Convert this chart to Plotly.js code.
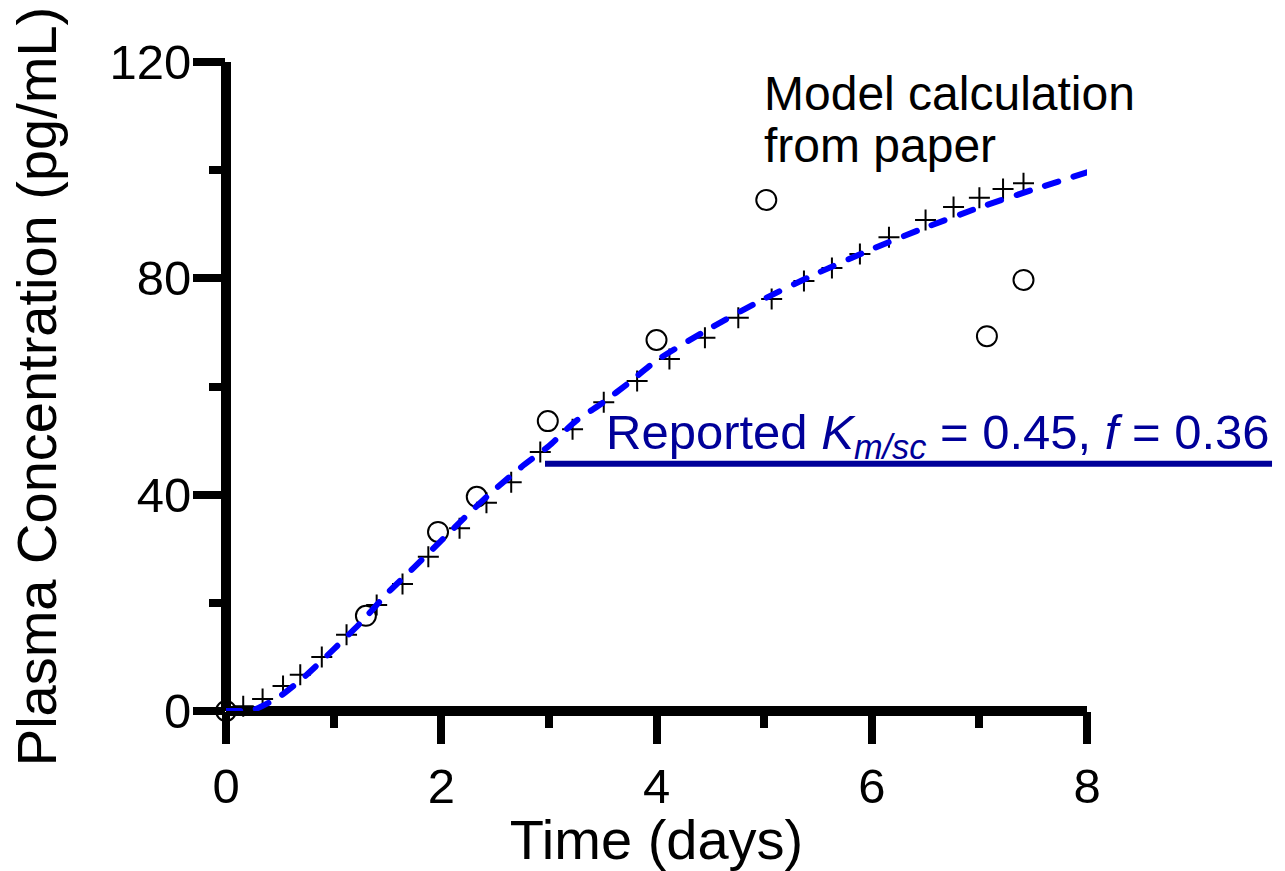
<!DOCTYPE html>
<html>
<head>
<meta charset="utf-8">
<script src="https://cdn.plot.ly/plotly-3.0.1.min.js"></script>
<style>
  html, body { margin: 0; padding: 0; background: #fff; }
  #chart { width: 1285px; height: 871px; }
  .js-line { stroke-linecap: round; }
</style>
</head>
<body>
<div id="chart"></div>
<script>
// Observed plasma concentrations (open circles)
const obsDays = [0, 0.28, 1.30, 1.97, 2.33, 2.99, 4.00, 5.02, 7.07, 7.41];
const obsConc = [0, -0.3, 17.6, 33.1, 39.6, 53.6, 68.6, 94.5, 69.3, 79.7];

// Model calculation from paper (plus markers)
const paperDays = [0.16, 0.34, 0.53, 0.69, 0.89, 1.12, 1.40, 1.64, 1.88, 2.17,
                   2.42, 2.65, 2.92, 3.22, 3.51, 3.82, 4.12, 4.45, 4.76, 5.07,
                   5.37, 5.63, 5.89, 6.16, 6.50, 6.76, 7.00, 7.22, 7.41];
const paperConc = [0.9, 2.2, 4.6, 6.7, 10.0, 14.1, 19.6, 23.5, 28.5, 33.8,
                   38.5, 42.3, 47.9, 52.1, 57.1, 61.0, 65.1, 69.0, 72.7, 76.2,
                   79.5, 81.9, 84.5, 87.6, 90.8, 93.2, 94.9, 96.5, 97.6];

// Fitted curve with the reported parameters (dashed blue)
const fitDays = [0, 0.25, 0.5, 0.75, 1.0, 1.25, 1.5, 1.75, 2.0, 2.25, 2.5, 2.75,
                 3.0, 3.25, 3.5, 3.75, 4.0, 4.5, 5.0, 5.5, 6.0, 6.5, 7.0, 7.5, 8.0];
const fitConc = [0, 0.2, 2.7, 6.7, 11.4, 16.3, 21.8, 26.6, 31.5, 36.4, 41.0, 45.2,
                 49.0, 53.6, 57.0, 60.8, 64.8, 70.8, 76.2, 81.0, 85.4, 89.4, 93.1, 96.4, 99.6];

const xTicks = [0, 2, 4, 6, 8];
const yTicks = [0, 40, 80, 120];

const navy = '#000099';
const font = 'Liberation Sans, Arial, sans-serif';

const traces = [
  {
    x: obsDays, y: obsConc, type: 'scatter', mode: 'markers',
    marker: { symbol: 'circle-open', size: 20, color: '#000', line: { width: 2, color: '#000' } },
    cliponaxis: false, hoverinfo: 'skip'
  },
  {
    x: paperDays, y: paperConc, type: 'scatter', mode: 'markers',
    marker: { symbol: 'cross-thin-open', size: 15, color: '#000', line: { width: 2, color: '#000' } },
    cliponaxis: false, hoverinfo: 'skip'
  },
  {
    x: fitDays, y: fitConc, type: 'scatter', mode: 'lines',
    line: { color: '#0000ff', width: 6, dash: '14px,16px', shape: 'spline', smoothing: 0.6 },
    cliponaxis: false, hoverinfo: 'skip'
  }
];

const axisCommon = {
  showgrid: false,
  showline: false,
  zeroline: true,
  zerolinecolor: '#000',
  zerolinewidth: 10,
  ticks: 'outside',
  ticklen: 32,
  tickwidth: 8,
  tickcolor: '#000',
  tickfont: { family: font, size: 49, color: '#000' },
  fixedrange: true
};

const layout = {
  width: 1285, height: 871,
  margin: { l: 226, r: 198, t: 62, b: 160 },
  paper_bgcolor: '#fff', plot_bgcolor: '#fff',
  showlegend: false,
  xaxis: Object.assign({}, axisCommon, {
    range: [0, 8],
    tickmode: 'array', tickvals: xTicks, ticktext: xTicks.map(String),
    minor: { dtick: 1, tick0: 0, ticks: 'outside', ticklen: 16, tickwidth: 8, tickcolor: '#000', showgrid: false },
    title: { text: 'Time (days)', font: { family: font, size: 56, color: '#000' }, standoff: 4 }
  }),
  yaxis: Object.assign({}, axisCommon, {
    range: [0, 120],
    ticklabelstandoff: -8,
    tickmode: 'array', tickvals: yTicks, ticktext: yTicks.map(String),
    minor: { dtick: 20, tick0: 0, ticks: 'outside', ticklen: 16, tickwidth: 8, tickcolor: '#000', showgrid: false },
    title: { text: 'Plasma Concentration (pg/mL)', font: { family: font, size: 56, color: '#000' }, standoff: 34 }
  }),
  shapes: [
    {
      type: 'line', xref: 'paper', yref: 'y',
      x0: 0.3705, x1: 1.2149, y0: 45.7, y1: 45.7,
      line: { color: navy, width: 6 }
    }
  ],
  annotations: [
    {
      xref: 'paper', yref: 'paper', x: 0.6225, y: 0.951, xanchor: 'left', yanchor: 'middle',
      text: 'Model calculation', showarrow: false,
      font: { family: font, size: 48, color: '#000' }
    },
    {
      xref: 'paper', yref: 'paper', x: 0.6225, y: 0.872, xanchor: 'left', yanchor: 'middle',
      text: 'from paper', showarrow: false,
      font: { family: font, size: 48, color: '#000' }
    },
    {
      xref: 'paper', yref: 'y', x: 1.2149, y: 51.0, xanchor: 'right', yanchor: 'middle',
      text: 'Reported <i>K</i><sub><i>m/sc</i></sub> = 0.45, <i>f</i> = 0.36', showarrow: false,
      font: { family: font, size: 49, color: navy }
    }
  ]
};

Plotly.newPlot('chart', traces, layout, { staticPlot: true, displayModeBar: false });
</script>
</body>
</html>
